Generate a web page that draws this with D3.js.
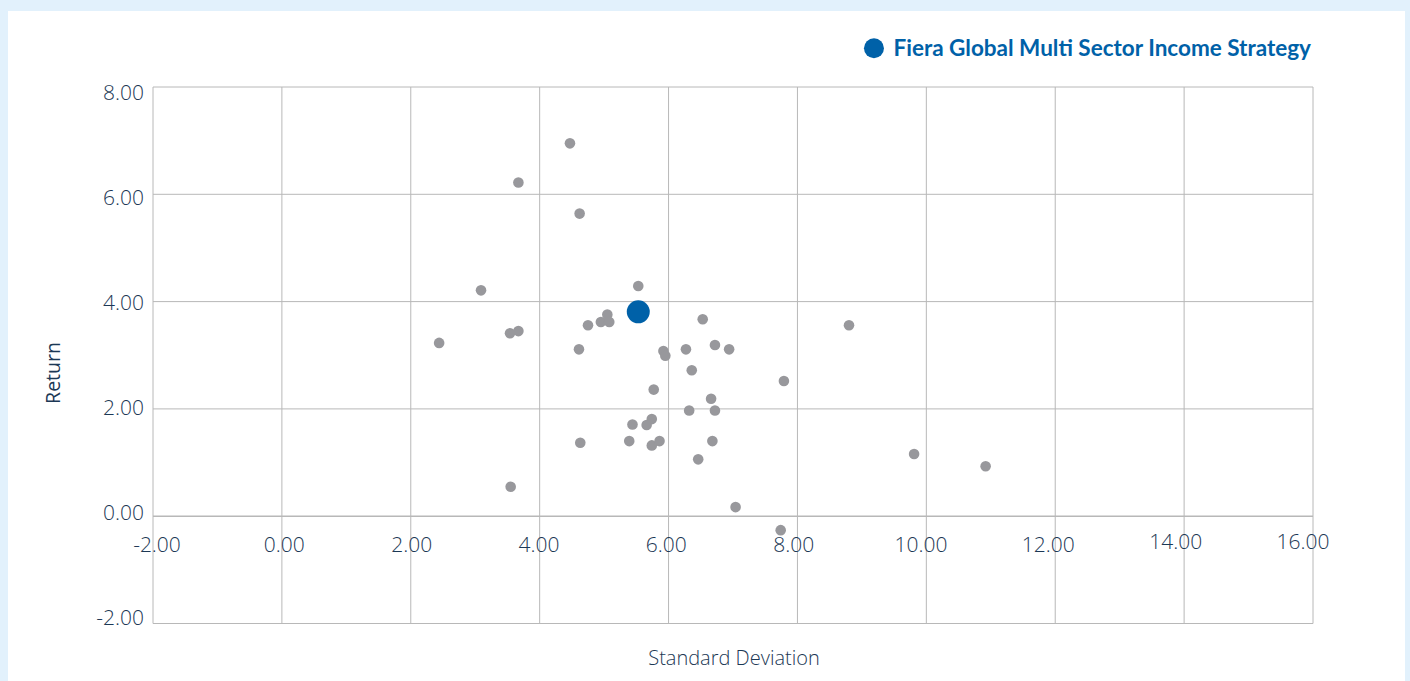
<!DOCTYPE html>
<html>
<head>
<meta charset="utf-8">
<script src="https://cdn.jsdelivr.net/npm/d3@7/dist/d3.min.js"></script>
<style>
  body { margin: 0; background: #e2f1fc; }
  svg { display: block; }
</style>
</head>
<body>
<script>
    // peer group (standard deviation, return)
    var peerStdDev = [4.47, 3.67, 4.62, 3.09, 5.53, 2.44, 3.54, 3.67, 4.75, 4.95,
                      5.05, 5.08, 4.61, 6.53, 6.72, 6.94, 6.27, 5.92, 5.95, 6.36,
                      7.79, 5.77, 6.66, 6.32, 6.72, 5.74, 5.66, 5.44, 4.63, 5.39,
                      5.74, 5.86, 6.68, 6.46, 8.80, 9.81, 10.92, 7.04, 7.74, 3.55];
    var peerReturn = [6.95, 6.22, 5.64, 4.21, 4.29, 3.23, 3.41, 3.45, 3.56, 3.62,
                      3.76, 3.62, 3.11, 3.67, 3.19, 3.11, 3.11, 3.08, 2.99, 2.72,
                      2.52, 2.36, 2.19, 1.97, 1.97, 1.81, 1.70, 1.71, 1.37, 1.40,
                      1.32, 1.40, 1.40, 1.06, 3.56, 1.16, 0.93, 0.17, -0.26, 0.55];

    var fundName = "Fiera Global Multi Sector Income Strategy";
    var fundStdDev = [5.53];
    var fundReturn = [3.81];

    var xTicks = [-2, 0, 2, 4, 6, 8, 10, 12, 14, 16];
    var yTicks = [-2, 0, 2, 4, 6, 8];

    var width = 1410,
        height = 681,
        plotLeft = 153,
        plotRight = 1313,
        plotTop = 87,
        plotBottom = 623.5;

    var textColor = "#1c3855",
        gridColor = "#b8b8b8",
        dotColor = "#98989c",
        fundColor = "#0061a8";

    var x = d3.scaleLinear().domain([-2, 16]).range([plotLeft, plotRight]);
    var y = d3.scaleLinear().domain([-2, 8]).range([plotBottom, plotTop]);
    // the tick labels in the original sit on a slightly tighter spacing than the grid
    var xLabel = d3.scaleLinear().domain([-2, 16]).range([157, 1303]);
    var yLabel = d3.scaleLinear().domain([-2, 8]).range([617.5, 92.5]);

    var svg = d3.select("body")
                .append("svg")
                .attr("width", width)
                .attr("height", height);

    svg.append("rect")
       .attr("x", 0).attr("y", 0)
       .attr("width", width).attr("height", height)
       .attr("fill", "#e2f1fc");

    svg.append("rect")
       .attr("x", 8).attr("y", 11)
       .attr("width", 1397).attr("height", height)
       .attr("fill", "#ffffff");

    // grid
    svg.append("g")
       .selectAll("line")
       .data(xTicks)
       .enter()
       .append("line")
       .attr("x1", (d) => x(d)).attr("x2", (d) => x(d))
       .attr("y1", plotTop).attr("y2", plotBottom)
       .attr("stroke", gridColor)
       .attr("stroke-width", 1);

    svg.append("g")
       .selectAll("line")
       .data(yTicks)
       .enter()
       .append("line")
       .attr("x1", plotLeft).attr("x2", plotRight)
       .attr("y1", (d) => y(d)).attr("y2", (d) => y(d))
       .attr("stroke", gridColor)
       .attr("stroke-width", (d) => d == 0 ? 1.6 : 1);

    // tick labels
    svg.append("g")
       .selectAll("text")
       .data(xTicks)
       .enter()
       .append("text")
       .attr("x", (d) => xLabel(d))
       .attr("y", (d) => d >= 14 ? 549 : 551.5)
       .attr("text-anchor", "middle")
       .attr("font-family", "'Open Sans', sans-serif")
       .attr("font-weight", 300)
       .attr("font-size", 21)
       .attr("fill", textColor)
       .text((d) => d.toFixed(2));

    svg.append("g")
       .selectAll("text")
       .data(yTicks)
       .enter()
       .append("text")
       .attr("x", 144)
       .attr("y", (d) => yLabel(d))
       .attr("dy", "0.36em")
       .attr("text-anchor", "end")
       .attr("font-family", "'Open Sans', sans-serif")
       .attr("font-weight", 300)
       .attr("font-size", 21)
       .attr("fill", textColor)
       .text((d) => d.toFixed(2));

    // axis titles
    svg.append("text")
       .attr("transform", "translate(60,373) rotate(-90)")
       .attr("text-anchor", "middle")
       .attr("font-family", "'Open Sans', sans-serif")
       .attr("font-size", 19.5)
       .attr("fill", textColor)
       .text("Return");

    svg.append("text")
       .attr("x", 734)
       .attr("y", 665)
       .attr("text-anchor", "middle")
       .attr("font-family", "'Open Sans', sans-serif")
       .attr("font-weight", 300)
       .attr("font-size", 20)
       .attr("fill", textColor)
       .text("Standard Deviation");

    // peers
    svg.append("g")
       .selectAll("circle")
       .data(peerStdDev)
       .enter()
       .append("circle")
       .attr("cx", (d) => x(d))
       .attr("cy", (d, i) => y(peerReturn[i]))
       .attr("r", 5.3)
       .attr("fill", dotColor);

    // fund
    svg.append("g")
       .selectAll("circle")
       .data(fundStdDev)
       .enter()
       .append("circle")
       .attr("cx", (d) => x(d))
       .attr("cy", (d, i) => y(fundReturn[i]))
       .attr("r", 11.5)
       .attr("fill", fundColor);

    // legend
    var legendText = svg.append("text")
       .attr("x", 1311)
       .attr("y", 55.5)
       .attr("text-anchor", "end")
       .attr("font-family", "Lato, sans-serif")
       .attr("font-weight", 700)
       .attr("font-size", 22.5)
       .attr("fill", fundColor)
       .text(fundName);

    var lw = legendText.node().getComputedTextLength();
    svg.append("circle")
       .attr("cx", 1311 - lw - 19.5)
       .attr("cy", 48.3)
       .attr("r", 10)
       .attr("fill", fundColor);

</script>
</body>
</html>
